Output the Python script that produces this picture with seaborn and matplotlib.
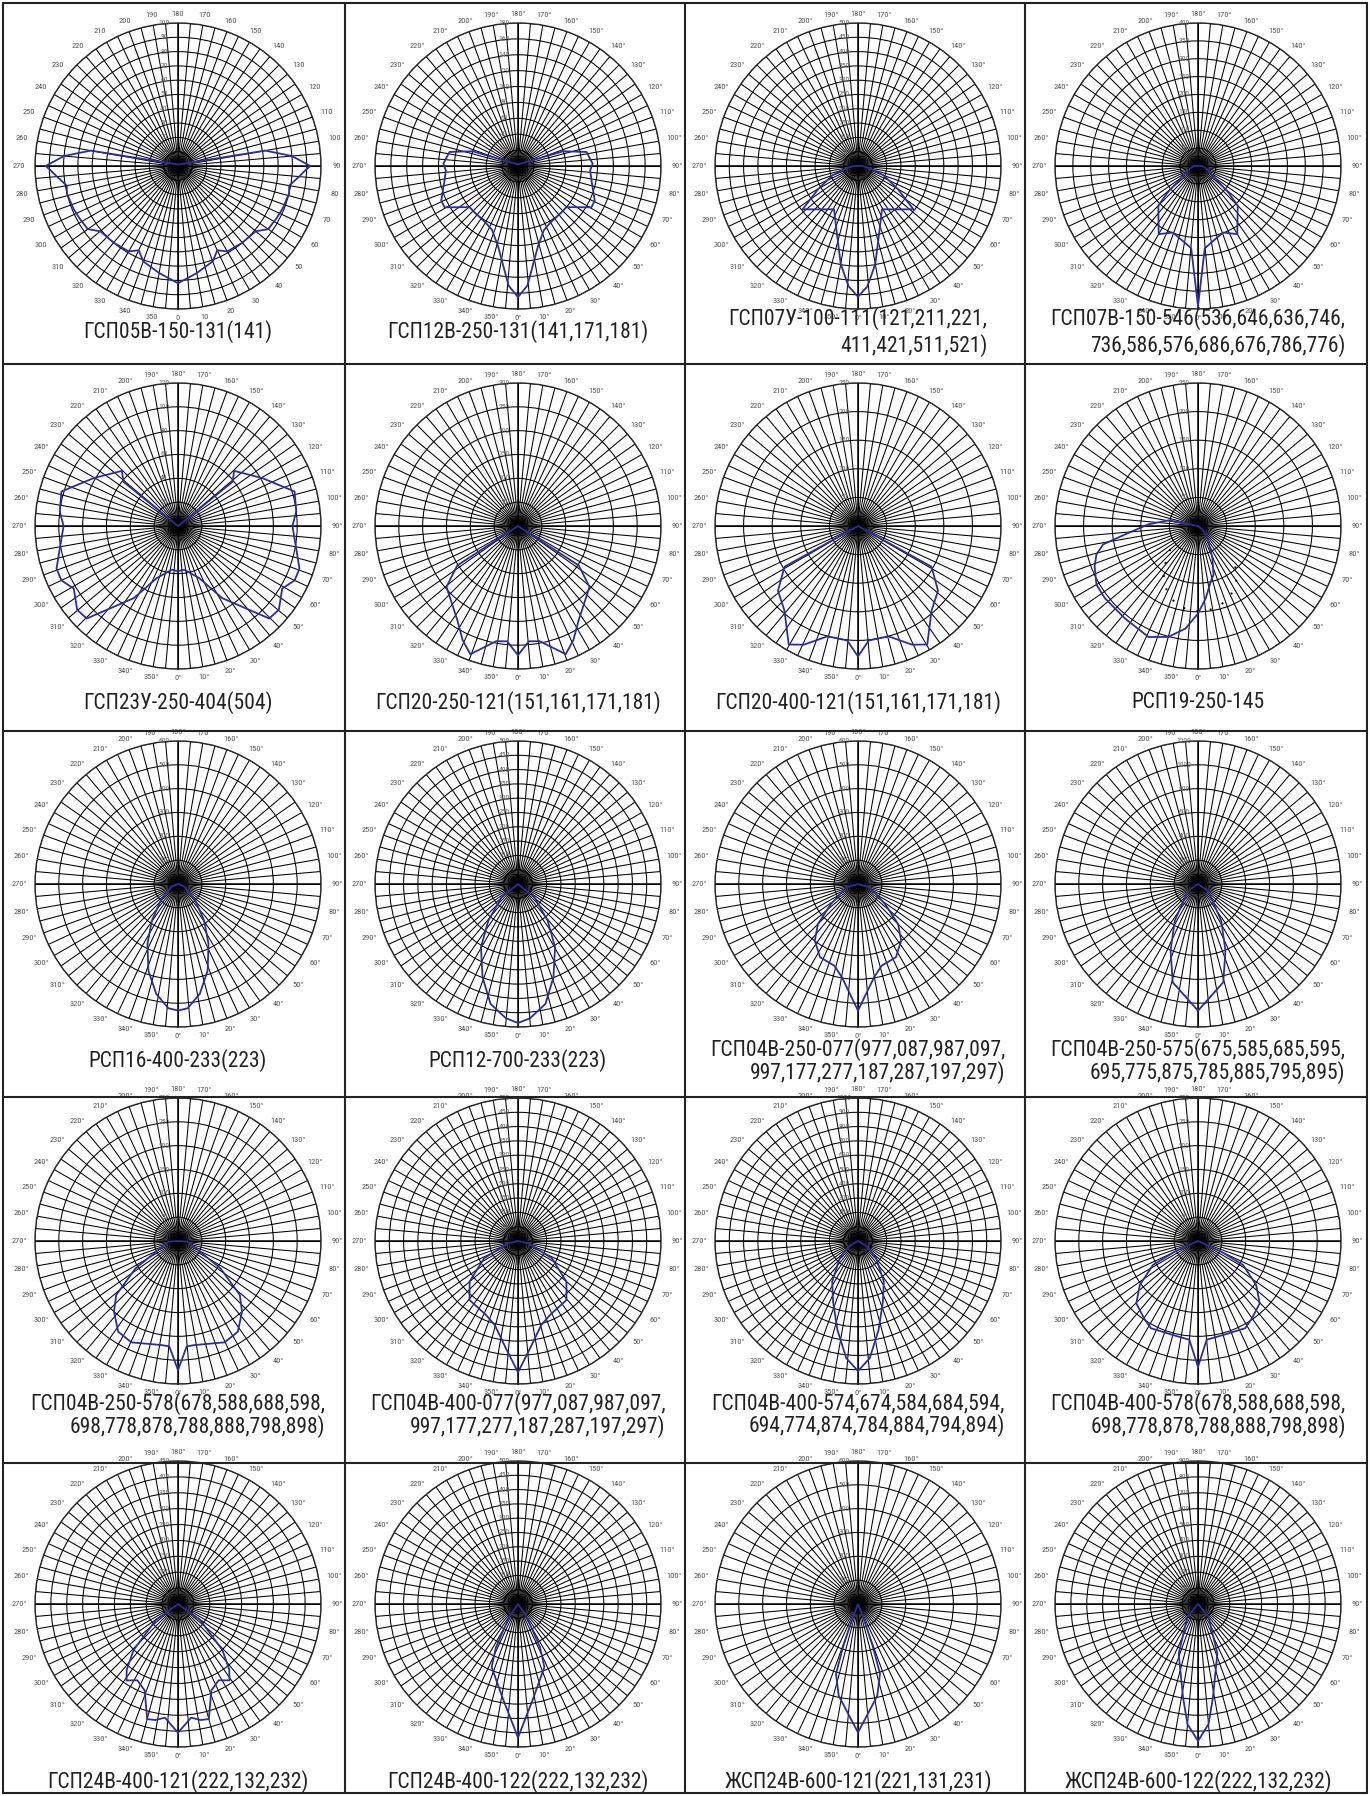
import numpy as np
import matplotlib
matplotlib.use("Agg")
import matplotlib.pyplot as plt
from matplotlib.lines import Line2D
from matplotlib import font_manager
import seaborn as sns

TITLES = [
    "ГСП05В-150-131(141)",
    "ГСП12В-250-131(141,171,181)",
    "ГСП07У-100-111(121,211,221,\n411,421,511,521)",
    "ГСП07В-150-546(536,646,636,746,\n736,586,576,686,676,786,776)",
    "ГСП23У-250-404(504)",
    "ГСП20-250-121(151,161,171,181)",
    "ГСП20-400-121(151,161,171,181)",
    "РСП19-250-145",
    "РСП16-400-233(223)",
    "РСП12-700-233(223)",
    "ГСП04В-250-077(977,087,987,097,\n997,177,277,187,287,197,297)",
    "ГСП04В-250-575(675,585,685,595,\n695,775,875,785,885,795,895)",
    "ГСП04В-250-578(678,588,688,598,\n698,778,878,788,888,798,898)",
    "ГСП04В-400-077(977,087,987,097,\n997,177,277,187,287,197,297)",
    "ГСП04В-400-574,674,584,684,594,\n694,774,874,784,884,794,894)",
    "ГСП04В-400-578(678,588,688,598,\n698,778,878,788,888,798,898)",
    "ГСП24В-400-121(222,132,232)",
    "ГСП24В-400-122(222,132,232)",
    "ЖСП24В-600-121(221,131,231)",
    "ЖСП24В-600-122(222,132,232)",
]
R_MAX = [100, 180, 500, 400, 120, 300, 250, 250, 600, 500,
         600, 1200, 300, 500, 1000, 300, 450, 500, 600, 900]
R_STEP = [10, 20, 50, 50, 20, 50, 50, 50, 100, 50,
          100, 200, 50, 50, 100, 50, 50, 50, 100, 100]

# half curves (symmetric around the 0-180 axis): angle in degrees, candela value
A01 = [0, 10, 20, 25, 30, 40, 50, 55, 62, 68, 76, 80, 85, 88, 90, 95, 100, 180]
V01 = [82, 76, 71, 65, 69, 70, 71, 77, 78, 79, 80, 79, 85, 89, 92.5, 80, 62, 1]
A02 = [0, 4.5, 14, 22, 30, 42.6, 49.7, 60.6, 65.7, 77.7, 86.5, 91.8, 101.6, 108, 180]
V02 = [165, 151, 104, 87, 82, 80, 80, 106, 106, 95, 91, 94, 88, 60, 2]
A03 = [0, 4.5, 10, 20, 29, 40, 52, 60, 70, 80, 90, 180]
V03 = [457, 422, 348, 225, 173, 198, 246, 160, 95, 40, 15, 0]
A04 = [0, 4.7, 10, 20.7, 30, 45, 49, 53, 72, 90, 180]
V04 = [392, 231, 217, 199, 220, 157, 112, 67, 25, 12, 0]
A05 = [0, 8, 22, 31.5, 44.6, 50.3, 59, 65, 70.7, 80.8, 90, 97, 106.5, 119.5, 134.5, 129, 180]
V05 = [38, 37, 47, 71, 109, 110, 102, 108, 108, 100, 96, 100, 102, 81.5, 66, 59, 0]
A06 = [0, 5.4, 10.7, 20.4, 25.9, 32.8, 49.6, 57, 180]
V06 = [271, 243, 246, 287, 266, 235, 197, 152, 0]
A07 = [0, 5.4, 15.4, 24.5, 30.3, 41, 51, 61, 180]
V07 = [228, 201, 200, 228, 240, 196, 180, 147, 0]
# РСП19 is not symmetric: full path
A08 = [180, 259, 268, 276.6, 281, 285.7, 291.3, 300, 307.8, 321.7, 336, 345, 353,
       0, 6.1, 13, 17.6, 24.4, 38.7, 52, 180]
V08 = [0, 52, 86.5, 128.5, 169, 184.5, 194, 205, 206, 206, 212.5, 200.8, 180.7,
       153, 127, 99.6, 89.5, 61, 26, 9.6, 0]
A08_DOT = [310, 322, 335, 345, 355, 5, 15, 25, 37, 47]
V08_DOT = [63, 100, 128, 143, 149, 150, 145, 135, 114, 86]
A09 = [0, 4.4, 11.2, 18.9, 27, 35.5, 46, 68, 180]
V09 = [531, 523, 470, 384, 282, 189, 101, 30, 0]
A10 = [0, 5.2, 12.9, 20.8, 30.4, 39, 51, 180]
V10 = [486, 471, 430, 349, 256, 165, 74, 0]
A11 = [0, 9.8, 16.1, 27.4, 37.3, 45, 53.5, 74, 180]
V11 = [531, 397, 357, 346, 299, 238, 141, 51, 0]
A12 = [0, 14.4, 22.4, 32.3, 56, 180]
V12 = [1063, 852, 605, 364, 101, 0]
A13 = [0, 4.7, 8.8, 24.7, 33.4, 42.2, 48.9, 57.2, 86, 180]
V13 = [271, 222, 221, 234, 228, 200, 172, 106, 20, 0]
A14 = [0, 6.5, 15.4, 23.3, 39.4, 50, 63, 77, 180]
V14 = [459, 377, 305, 282, 267, 221, 133, 36, 0]
A15 = [0, 5.7, 13, 22.3, 32.4, 46.6, 59, 180]
V15 = [909, 824, 639, 459, 337, 176, 78, 0]
A16 = [0, 5, 16.4, 28.4, 34.8, 44.7, 52.9, 62, 65.3, 180]
V16 = [264, 208, 204, 208, 198, 184, 153, 107, 54, 0]
A17 = [0, 6.6, 11, 15, 21, 28, 34, 38, 44, 54, 180]
V17 = [405, 360, 372, 375, 292, 272, 290, 262, 201, 86, 0]
A18 = [0, 9, 22.7, 27, 34, 180]
V18 = [467, 336, 239, 169, 54, 0]
A19 = [0, 11.9, 17.5, 19.2, 21, 180]
V19 = [539, 393, 307, 191, 72, 0]
A20 = [0, 5, 9.1, 21.3, 39.6, 180]
V20 = [862, 759, 595, 335, 104, 0]

CURVES = [(A01, V01), (A02, V02), (A03, V03), (A04, V04), (A05, V05),
          (A06, V06), (A07, V07), (A08, V08), (A09, V09), (A10, V10),
          (A11, V11), (A12, V12), (A13, V13), (A14, V14), (A15, V15),
          (A16, V16), (A17, V17), (A18, V18), (A19, V19), (A20, V20)]
SYMMETRIC = [True] * 20
SYMMETRIC[7] = False

# layout in pixels
W, H = 1370, 1796
COL_X = [178, 518, 858, 1198]
ROW_Y = [166, 526, 884, 1241, 1604]
RAD = 143
CAP_Y = [332, 703, 1061, 1415, 1782]
CAP_LSP = [1.25, 1.25, 0.95, 0.95, 1.25]
BORDER_X = [3, 345, 685, 1025, 1367]
BORDER_Y = [3, 364, 731, 1097, 1463, 1793]
BLUE = "#2b2d9e"


def pick_font(names):
    for n in names:
        try:
            font_manager.findfont(font_manager.FontProperties(family=n),
                                  fallback_to_default=False)
            return n
        except Exception:
            pass
    return "DejaVu Sans"


def mirror(a, v):
    full_a = list(a) + [360 - x for x in reversed(a)]
    full_v = list(v) + list(reversed(v))
    return full_a, full_v


sns.set_style("white")
CAP_FONT = pick_font(["Liberation Sans Narrow", "Roboto Condensed", "Liberation Sans"])
narrow = CAP_FONT != "Liberation Sans" and CAP_FONT != "DejaVu Sans"
CAP_SIZE = 15.5 if narrow else 12
plt.rcParams["font.family"] = [CAP_FONT, "DejaVu Sans"]

fig = plt.figure(figsize=(W / 100, H / 100), dpi=100)

for i, title in enumerate(TITLES):
    row, col = divmod(i, 4)
    cx, cy = COL_X[col], ROW_Y[row]
    ax = fig.add_axes([(cx - RAD) / W, 1 - (cy + RAD) / H, 2 * RAD / W, 2 * RAD / H],
                      projection="polar")
    ax.set_theta_zero_location("S")
    ax.set_theta_direction(1)
    rmax, step = R_MAX[i], R_STEP[i]
    ax.set_ylim(0, rmax)
    ax.set_xticks(np.deg2rad(np.arange(0, 360, 5)))
    ax.set_xticklabels([])
    ax.set_yticks(np.arange(step, rmax + step / 2, step))
    ax.set_yticklabels([])
    ax.tick_params(length=0)
    ax.grid(True, color="black", linewidth=0.75)
    ax.spines["polar"].set_linewidth(1.0)
    for a in (0, 90, 180, 270):
        ax.axvline(np.deg2rad(a), color="black", lw=1.1, zorder=2)

    # angle labels
    for a in range(0, 360, 10):
        lab = f"{a}°" if i > 0 else f"{a}"
        off = 9 + 7 * abs(np.sin(np.deg2rad(a)))
        ax.text(np.deg2rad(a), rmax * (1 + off / RAD), lab, ha="center", va="center",
                fontsize=6, color="#555555", clip_on=False)
    # ring labels
    for v in np.arange(step, rmax + step / 2, step):
        ax.annotate(f"{int(v)}", xy=(np.pi, v), xytext=(-14, 0),
                    textcoords="offset pixels", ha="center", va="center",
                    fontsize=5.5, color="#666666")

    ang, val = CURVES[i]
    if SYMMETRIC[i]:
        ang, val = mirror(ang, val)
    sns.lineplot(x=np.deg2rad(ang), y=val, ax=ax, sort=False, estimator=None,
                 color=BLUE, lw=1.3, legend=False, zorder=5)
    if i == 7:
        sns.lineplot(x=np.deg2rad(A08_DOT), y=V08_DOT, ax=ax, sort=False,
                     estimator=None, color="black", lw=1.4,
                     linestyle=(0, (1, 6)), legend=False, zorder=4)
    ax.set_xlabel("")
    ax.set_ylabel("")

    fig.text(cx / W, 1 - CAP_Y[row] / H, title, ha="center", va="center",
             multialignment="right", fontsize=CAP_SIZE, color="#222222",
             linespacing=CAP_LSP[row])

for x in BORDER_X:
    fig.add_artist(Line2D([x / W, x / W], [1 - BORDER_Y[0] / H, 1 - BORDER_Y[-1] / H],
                          transform=fig.transFigure, color="#222222", lw=1.5))
for y in BORDER_Y:
    fig.add_artist(Line2D([BORDER_X[0] / W, BORDER_X[-1] / W], [1 - y / H, 1 - y / H],
                          transform=fig.transFigure, color="#222222", lw=1.5))

fig.savefig("out.png", dpi=100)
